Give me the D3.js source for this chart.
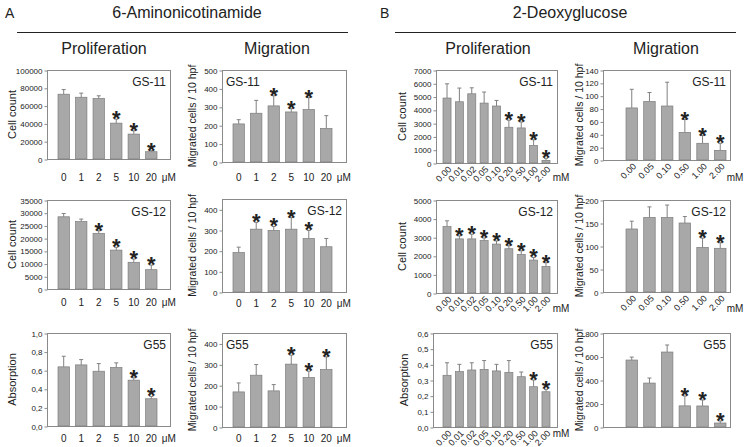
<!DOCTYPE html>
<html><head><meta charset="utf-8">
<script src="https://cdn.jsdelivr.net/npm/d3@7"></script>
<style>
body{margin:0;background:#fff}
svg{display:block}
text{font-family:"Liberation Sans",Arial,Helvetica,sans-serif;fill:#222}
</style>
</head><body>
<svg width="745" height="447"></svg>
<script>
// ---------- DATA ----------
const amConc = ["0","1","2","5","10","20"];
const dgProlifConc = ["0.00","0.01","0.02","0.05","0.10","0.20","0.50","1.00","2.00"];
const dgMigConc = ["0.00","0.05","0.10","0.50","1.00","2.00"];

// 6-Aminonicotinamide
const amProlifGS11 = [72800, 69400, 68000, 40300, 28000, 8200];
const amProlifGS11Err = [5200, 4600, 3000, 4500, 3700, 1100];
const amProlifGS11Sig = [0,0,0,1,1,1];
const amMigGS11 = [207, 265, 305, 272, 285, 182];
const amMigGS11Err = [23, 70, 55, 18, 65, 70];
const amMigGS11Sig = [0,0,1,1,1,0];

const amProlifGS12 = [28400, 26500, 21900, 15300, 10500, 7600];
const amProlifGS12Err = [1300, 1000, 1000, 1100, 1300, 1800];
const amProlifGS12Sig = [0,0,1,1,1,1];
const amMigGS12 = [191, 304, 298, 304, 259, 219];
const amMigGS12Err = [26, 33, 19, 56, 39, 40];
const amMigGS12Sig = [0,1,1,1,1,0];

const amProlifG55 = [0.636, 0.657, 0.589, 0.629, 0.493, 0.293];
const amProlifG55Err = [0.114, 0.057, 0.082, 0.05, 0.025, 0.025];
const amProlifG55Sig = [0,0,0,0,1,1];
const amMigG55 = [168, 248, 173, 301, 237, 275];
const amMigG55Err = [43, 51, 30, 43, 30, 61];
const amMigG55Sig = [0,0,0,1,1,1];

// 2-Deoxyglucose
const dgProlifGS11 = [4890, 4610, 5210, 4510, 4290, 2690, 2640, 1320, 200];
const dgProlifGS11Err = [1070, 1030, 450, 830, 420, 530, 450, 430, 150];
const dgProlifGS11Sig = [0,0,0,0,0,1,1,1,1];
const dgMigGS11 = [81, 91, 84, 43, 26, 15];
const dgMigGS11Err = [29, 14, 37, 20, 12, 11];
const dgMigGS11Sig = [0,0,0,1,1,1];

const dgProlifGS12 = [3570, 2910, 2910, 2820, 2630, 2380, 2070, 1770, 1430];
const dgProlifGS12Err = [310, 160, 250, 140, 170, 160, 200, 140, 200];
const dgProlifGS12Sig = [0,1,1,1,1,1,1,1,1];
const dgMigGS12 = [137, 162, 162, 150, 97, 95];
const dgMigGS12Err = [17, 23, 27, 14, 20, 12];
const dgMigGS12Sig = [0,0,0,0,1,1];

const dgProlifG55 = [0.33, 0.354, 0.364, 0.368, 0.358, 0.349, 0.321, 0.257, 0.225];
const dgProlifG55Err = [0.08, 0.046, 0.046, 0.056, 0.042, 0.075, 0.03, 0.043, 0.015];
const dgProlifG55Sig = [0,0,0,0,0,0,0,1,1];
const dgMigG55 = [570, 374, 638, 180, 179, 34];
const dgMigG55Err = [25, 43, 60, 84, 51, 17];
const dgMigG55Sig = [0,0,0,1,1,1];

// ---------- LAYOUT ----------
const fmtInt = d3.format("d");
const fmtComma = v => d3.format(".1f")(v).replace(".", ",");

const panels = [
  {cats:amConc, v:amProlifGS11, e:amProlifGS11Err, s:amProlifGS11Sig, tag:"GS-11", ylab:"Cell count",
   fx:[47,170], fy:[70,159], bars:[58,157], max:100000, step:20000, fmt:fmtInt, ylabX:12, tagSide:"right", unit:"μM", rot:false, xLabY:181},
  {cats:amConc, v:amMigGS11, e:amMigGS11Err, s:amMigGS11Sig, tag:"GS-11", ylab:"Migrated cells / 10 hpf",
   fx:[222,346], fy:[70,162], bars:[233,332], max:500, step:100, fmt:fmtInt, ylabX:192, tagSide:"left", unit:"μM", rot:false, xLabY:181},
  {cats:dgProlifConc, v:dgProlifGS11, e:dgProlifGS11Err, s:dgProlifGS11Sig, tag:"GS-11", ylab:"Cell count",
   fx:[436,557], fy:[70,163], bars:[443,550], max:7000, step:1000, fmt:fmtInt, ylabX:402, tagSide:"right", unit:"mM", rot:true, unitX:561, unitY:181},
  {cats:dgMigConc, v:dgMigGS11, e:dgMigGS11Err, s:dgMigGS11Sig, tag:"GS-11", ylab:"Migrated cells / 10 hpf",
   fx:[603,730], fy:[70,160], bars:[626,726], max:140, step:20, fmt:fmtInt, ylabX:579, tagSide:"right", unit:"mM", rot:true, unitX:735, unitY:181},

  {cats:amConc, v:amProlifGS12, e:amProlifGS12Err, s:amProlifGS12Sig, tag:"GS-12", ylab:"Cell count",
   fx:[47,170], fy:[200,289], bars:[58,157], max:35000, step:5000, fmt:fmtInt, ylabX:12, tagSide:"right", unit:"μM", rot:false, xLabY:306},
  {cats:amConc, v:amMigGS12, e:amMigGS12Err, s:amMigGS12Sig, tag:"GS-12", ylab:"Migrated cells / 10 hpf",
   fx:[222,346], fy:[199,292], bars:[233,332], max:450, tickMax:400, step:100, fmt:fmtInt, ylabX:192, tagSide:"right", unit:"μM", rot:false, xLabY:307},
  {cats:dgProlifConc, v:dgProlifGS12, e:dgProlifGS12Err, s:dgProlifGS12Sig, tag:"GS-12", ylab:"Cell count",
   fx:[436,557], fy:[200,293], bars:[443,550], max:5000, step:1000, fmt:fmtInt, ylabX:402, tagSide:"right", unit:"mM", rot:true, unitX:561, unitY:312},
  {cats:dgMigConc, v:dgMigGS12, e:dgMigGS12Err, s:dgMigGS12Sig, tag:"GS-12", ylab:"Migrated cells / 10 hpf",
   fx:[603,730], fy:[200,292], bars:[626,726], max:200, step:50, fmt:fmtInt, ylabX:579, tagSide:"right", unit:"mM", rot:true, unitX:735, unitY:312},

  {cats:amConc, v:amProlifG55, e:amProlifG55Err, s:amProlifG55Sig, tag:"G55", ylab:"Absorption",
   fx:[47,170], fy:[333,426], bars:[58,157], max:1.0, step:0.2, fmt:fmtComma, ylabX:12, tagSide:"right", unit:"μM", rot:false, xLabY:442},
  {cats:amConc, v:amMigG55, e:amMigG55Err, s:amMigG55Sig, tag:"G55", ylab:"Migrated cells / 10 hpf",
   fx:[222,346], fy:[333,427], bars:[233,332], max:450, tickMax:400, step:100, fmt:fmtInt, ylabX:192, tagSide:"left", unit:"μM", rot:false, xLabY:442},
  {cats:dgProlifConc, v:dgProlifG55, e:dgProlifG55Err, s:dgProlifG55Sig, tag:"G55", ylab:"Absorption",
   fx:[433,557], fy:[333,427], bars:[443,550], max:0.6, step:0.1, fmt:fmtComma, ylabX:404, tagSide:"right", unit:"mM", rot:true, unitX:561, unitY:437},
  {cats:dgMigConc, v:dgMigG55, e:dgMigG55Err, s:dgMigG55Sig, tag:"G55", ylab:"Migrated cells / 10 hpf",
   fx:[603,730], fy:[333,427], bars:[626,726], max:800, step:200, fmt:fmtInt, ylabX:579, tagSide:"right", unit:null, rot:true, noX:true}
];

const svg = d3.select("svg");
const frameCol = "#8a8a8a";

// ---------- HEADERS ----------
const headers = [
  {t:"A", x:5, y:18, size:14, anchor:"start"},
  {t:"6-Aminonicotinamide", x:187, y:18, size:16, anchor:"middle"},
  {t:"B", x:380, y:18, size:14, anchor:"start"},
  {t:"2-Deoxyglucose", x:570, y:18, size:16, anchor:"middle"},
  {t:"Proliferation", x:104, y:54, size:16, anchor:"middle"},
  {t:"Migration", x:277, y:54, size:16, anchor:"middle"},
  {t:"Proliferation", x:488, y:54, size:16, anchor:"middle"},
  {t:"Migration", x:666, y:54, size:16, anchor:"middle"}
];
svg.selectAll("text.hdr").data(headers).join("text").attr("class","hdr")
  .attr("x",d=>d.x).attr("y",d=>d.y).attr("font-size",d=>d.size).attr("text-anchor",d=>d.anchor).text(d=>d.t);
svg.append("line").attr("x1",17).attr("x2",348).attr("y1",32.5).attr("y2",32.5).attr("stroke","#222").attr("stroke-width",1.2);
svg.append("line").attr("x1",395).attr("x2",736).attr("y1",32.5).attr("y2",32.5).attr("stroke","#222").attr("stroke-width",1.2);

// ---------- PANELS ----------
panels.forEach(p => {
  const g = svg.append("g");
  const x = d3.scaleBand().domain(p.cats).range(p.bars).paddingInner(0.35).paddingOuter(0);
  const y = d3.scaleLinear().domain([0, p.max]).range([p.fy[1], p.fy[0]]);
  const bw = x.bandwidth();
  const data = p.cats.map((c,i)=>({c, v:p.v[i], e:p.e[i], s:p.s[i]}));

  // frame
  g.append("rect").attr("x",p.fx[0]+0.5).attr("y",p.fy[0]+0.5)
    .attr("width",p.fx[1]-p.fx[0]).attr("height",p.fy[1]-p.fy[0])
    .attr("fill","none").attr("stroke",frameCol).attr("stroke-width",1);

  // y axis
  const tMax = p.tickMax !== undefined ? p.tickMax : p.max;
  const tv = d3.range(0, Math.round(tMax/p.step)+1).map(k=>+(k*p.step).toFixed(6));
  const ya = g.append("g").attr("transform",`translate(${p.fx[0]+0.5},0.5)`)
    .call(d3.axisLeft(y).tickValues(tv).tickFormat(p.fmt).tickSize(3).tickPadding(2));
  ya.select(".domain").remove();
  ya.selectAll("line").attr("stroke",frameCol);
  ya.selectAll("text").attr("font-size",8).attr("fill","#222").style("font-family",'"Liberation Sans",Arial,sans-serif');

  // y label
  g.append("text").attr("transform",`translate(${p.ylabX},${(p.fy[0]+p.fy[1])/2}) rotate(-90)`)
    .attr("text-anchor","middle").attr("dy","0.35em")
    .attr("font-size", p.ylab.length > 12 ? 10.5 : 11).text(p.ylab);

  // bars
  g.selectAll("rect.bar").data(data).join("rect").attr("class","bar")
    .attr("x",d=>x(d.c)).attr("y",d=>y(d.v)).attr("width",bw).attr("height",d=>p.fy[1]-y(d.v))
    .attr("fill","#a8a8a8").attr("stroke","#7c7c7c").attr("stroke-width",0.7);

  // error bars
  g.selectAll("line.err").data(data).join("line").attr("class","err")
    .attr("x1",d=>x(d.c)+bw/2).attr("x2",d=>x(d.c)+bw/2)
    .attr("y1",d=>y(d.v)).attr("y2",d=>y(d.v+d.e)).attr("stroke","#808080").attr("stroke-width",1);
  g.selectAll("line.cap").data(data).join("line").attr("class","cap")
    .attr("x1",d=>x(d.c)+bw/2-2).attr("x2",d=>x(d.c)+bw/2+2)
    .attr("y1",d=>y(d.v+d.e)).attr("y2",d=>y(d.v+d.e)).attr("stroke","#808080").attr("stroke-width",1);

  // significance stars
  g.selectAll("text.star").data(data.filter(d=>d.s)).join("text").attr("class","star")
    .attr("x",d=>x(d.c)+bw/2).attr("y",d=>y(d.v+d.e)+7)
    .attr("text-anchor","middle").attr("font-size",22).attr("font-weight","bold").attr("fill","#111").text("*");

  // tag
  g.append("text")
    .attr("x", p.tagSide==="right" ? p.fx[1]-4 : p.fx[0]+4)
    .attr("y", p.fy[0]+16)
    .attr("text-anchor", p.tagSide==="right" ? "end" : "start")
    .attr("font-size",12).text(p.tag);

  // x axis labels
  if (!p.noX) {
    if (!p.rot) {
      const xa = g.append("g").attr("transform",`translate(0,${p.fy[1]})`)
        .call(d3.axisBottom(x).tickSize(0).tickPadding(p.xLabY - p.fy[1] - 7.1));
      xa.select(".domain").remove();
      xa.selectAll("text").attr("font-size",10).attr("fill","#222").style("font-family",'"Liberation Sans",Arial,sans-serif');
      const last = p.cats[p.cats.length-1];
      g.append("text").attr("x", x(last)+bw/2+x.step()).attr("y",p.xLabY)
        .attr("text-anchor","middle").attr("font-size",10).text(p.unit);
    } else {
      const xa = g.append("g").attr("transform",`translate(0,${p.fy[1]})`)
        .call(d3.axisBottom(x).tickSize(0));
      xa.select(".domain").remove();
      xa.selectAll("text").attr("font-size",9).attr("fill","#222").style("font-family",'"Liberation Sans",Arial,sans-serif')
        .attr("x",0).attr("y",0).attr("dy",0).attr("text-anchor","end")
        .attr("transform","translate(5,7) rotate(-45)");
      g.append("text").attr("x",p.unitX).attr("y",p.unitY).attr("text-anchor","middle").attr("font-size",10).text(p.unit);
    }
  }
});
</script>
</body></html>
